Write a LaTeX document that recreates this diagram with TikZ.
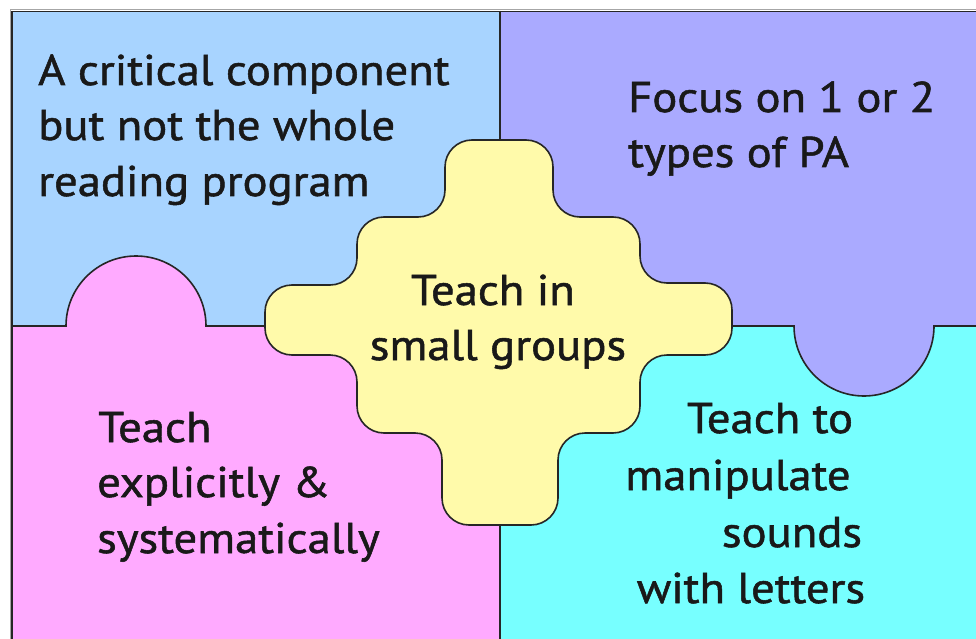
\documentclass[tikz,border=0pt]{standalone}
\usepackage{fontspec}
\setmainfont[FakeStretch=1.085, FakeBold=1.2]{PT Sans}
\definecolor{cblue}{RGB}{168,212,255}
\definecolor{cpurple}{RGB}{170,170,255}
\definecolor{cpink}{RGB}{255,170,255}
\definecolor{ccyan}{RGB}{119,255,255}
\definecolor{cyellow}{RGB}{255,250,170}
\begin{document}
\begin{tikzpicture}[x=1pt,y=-1pt,
  lbl/.style={inner sep=0pt, font=\fontsize{43}{52}\selectfont, text=black!90},
  edge/.style={draw=black!85, line width=1.6pt},
  blob/.style={fill=cyellow, draw=black!85, line width=1.6pt, rounded corners=27pt}]
\useasboundingbox (0,0) rectangle (976,639);
\fill[white] (0,0) rectangle (976,639);
% quadrants
\fill[cblue] (12,11) rectangle (500,326);
\fill[cpurple] (500,11) rectangle (976,326);
\fill[cpink] (12,326) rectangle (500,639);
\fill[ccyan] (500,326) rectangle (976,639);
% tabs
\fill[cpink] (66,326) arc[start angle=180, end angle=360, radius=70] -- cycle;
\fill[cpurple] (794,326) arc[start angle=180, end angle=0, radius=70] -- cycle;
% dividing lines
\draw[edge] (12,326) -- (66,326) arc[start angle=180, end angle=360, radius=70]
  -- (794,326) arc[start angle=180, end angle=0, radius=70] -- (976,326);
\draw[edge] (500,11) -- (500,639);
% frame
\draw[black!35, line width=1pt] (10,639) -- (10,9.5) -- (976,9.5);
\draw[edge] (12,639) -- (12,11.5) -- (976,11.5);
% central blob
\draw[blob] (445,140) -- (553,140) -- (553,217) -- (640,217) -- (640,283)
  -- (732,283) -- (732,355) -- (640,355) -- (640,433) -- (558,433)
  -- (558,525) -- (442,525) -- (442,433) -- (357,433) -- (357,355)
  -- (265,355) -- (265,285) -- (357,285) -- (357,217) -- (445,217) -- cycle;
% texts
\node[lbl, anchor=base west] (tl1) at (38,85) {A critical component};
\node[lbl, anchor=base west] (tl2) at (38,140) {but not the whole};
\node[lbl, anchor=base west] (tl3) at (38,196) {reading program};
\node[lbl, anchor=base west] (tr1) at (628,112) {Focus on 1 or 2};
\node[lbl, anchor=base west] (tr2) at (628,167) {types of PA};
\node[lbl, anchor=base] (c1) at (493,305) {Teach in};
\node[lbl, anchor=base] (c2) at (498,360) {small groups};
\node[lbl, anchor=base west] (bl1) at (98,442) {Teach};
\node[lbl, anchor=base west] (bl2) at (97,497) {explicitly \&};
\node[lbl, anchor=base west] (bl3) at (97,553) {systematically};
\node[lbl, anchor=base] (br1) at (770,433) {Teach to};
\node[lbl, anchor=base] (br2) at (738,490) {manipulate};
\node[lbl, anchor=base] (br3) at (792,547) {sounds};
\node[lbl, anchor=base] (br4) at (751,603) {with letters};
\end{tikzpicture}
\end{document}
